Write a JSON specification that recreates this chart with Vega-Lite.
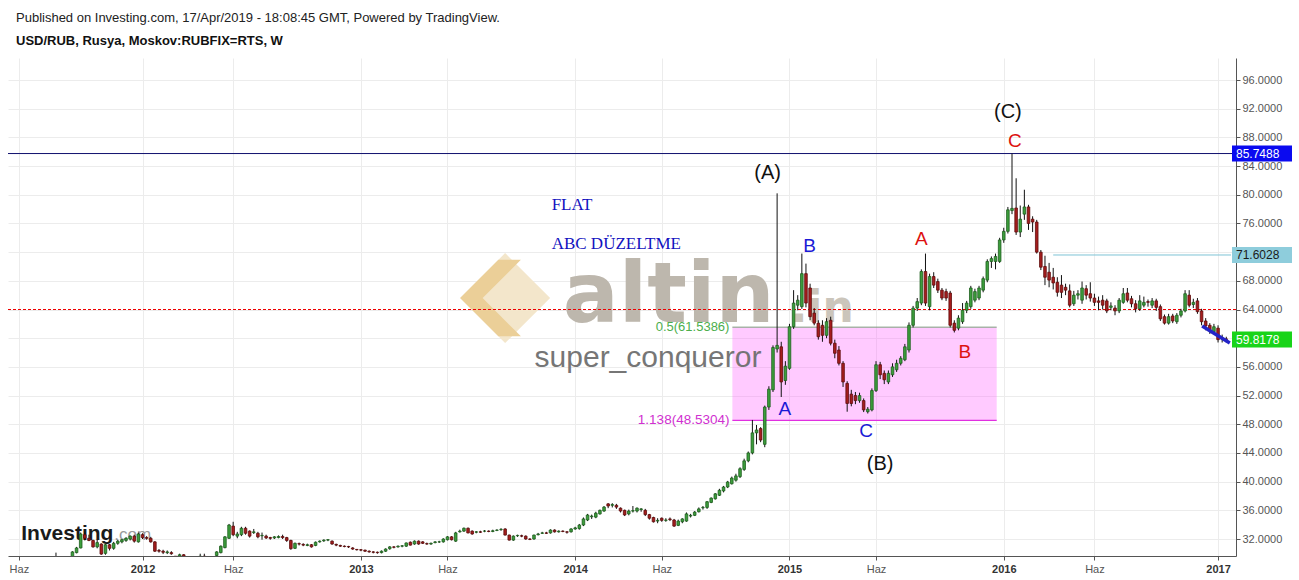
{
"$schema": "https://vega.github.io/schema/vega-lite/v6.json",
"width": 1228, "height": 498,
"autosize": {"type": "none"},
"padding": {"left": 8, "top": 58, "right": 63, "bottom": 24},
"background": "#ffffff",
"config": {"view": {"stroke": null}, "font": "Liberation Sans"},
"title": {"text": "Published on Investing.com, 17/Apr/2019 - 18:08:45 GMT, Powered by TradingView.", "subtitle": "USD/RUB, Rusya, Moskov:RUBFIX=RTS, W", "anchor": "start", "frame": "group", "dx": 8, "offset": 10, "font": "Liberation Sans", "fontSize": 13, "fontWeight": "normal", "color": "#222222", "subtitleFont": "Liberation Sans", "subtitleFontSize": 13, "subtitleFontWeight": "bold", "subtitleColor": "#111111", "subtitlePadding": 10},
"datasets": {
"candles": [
{"d":"2011-08-08","o":28.5,"h":30.1,"l":28.3,"c":29.0},
{"d":"2011-08-15","o":29.0,"h":29.2,"l":28.7,"c":28.9},
{"d":"2011-08-22","o":28.9,"h":29.2,"l":28.7,"c":29.0},
{"d":"2011-08-29","o":29.0,"h":29.4,"l":28.8,"c":29.3},
{"d":"2011-09-05","o":29.5,"h":30.3,"l":29.4,"c":30.2},
{"d":"2011-09-12","o":30.1,"h":30.9,"l":30.0,"c":30.75},
{"d":"2011-09-19","o":30.75,"h":32.9,"l":30.7,"c":32.7},
{"d":"2011-09-26","o":32.6,"h":32.9,"l":31.8,"c":32.1},
{"d":"2011-10-03","o":32.1,"h":32.6,"l":31.7,"c":31.8},
{"d":"2011-10-10","o":31.8,"h":31.9,"l":30.8,"c":30.9},
{"d":"2011-10-17","o":30.9,"h":31.9,"l":30.7,"c":31.5},
{"d":"2011-10-24","o":31.3,"h":31.4,"l":29.8,"c":29.9},
{"d":"2011-10-31","o":30.0,"h":31.3,"l":29.8,"c":31.2},
{"d":"2011-11-07","o":31.2,"h":31.3,"l":30.4,"c":30.7},
{"d":"2011-11-14","o":30.7,"h":31.6,"l":30.5,"c":31.4},
{"d":"2011-11-21","o":31.4,"h":31.9,"l":31.2,"c":31.7},
{"d":"2011-11-28","o":31.6,"h":32.0,"l":31.4,"c":31.9},
{"d":"2011-12-05","o":31.8,"h":32.2,"l":31.6,"c":32.1},
{"d":"2011-12-12","o":32.0,"h":32.5,"l":31.8,"c":32.4},
{"d":"2011-12-19","o":32.4,"h":32.6,"l":31.5,"c":31.7},
{"d":"2011-12-26","o":31.6,"h":32.9,"l":31.5,"c":32.7},
{"d":"2012-01-02","o":32.6,"h":32.8,"l":32.0,"c":32.2},
{"d":"2012-01-09","o":32.2,"h":32.4,"l":31.9,"c":32.1},
{"d":"2012-01-16","o":32.1,"h":32.3,"l":31.5,"c":31.6},
{"d":"2012-01-23","o":31.6,"h":31.7,"l":30.2,"c":30.3},
{"d":"2012-01-30","o":30.4,"h":30.6,"l":30.1,"c":30.3},
{"d":"2012-02-06","o":30.3,"h":30.5,"l":29.9,"c":30.15},
{"d":"2012-02-13","o":30.1,"h":30.4,"l":29.9,"c":30.2},
{"d":"2012-02-20","o":30.1,"h":30.3,"l":29.8,"c":29.95},
{"d":"2012-02-27","o":29.6,"h":29.6,"l":29.2,"c":29.4},
{"d":"2012-03-05","o":29.6,"h":29.95,"l":29.4,"c":29.8},
{"d":"2012-03-12","o":29.8,"h":29.9,"l":29.4,"c":29.6},
{"d":"2012-03-19","o":29.5,"h":29.55,"l":29.1,"c":29.3},
{"d":"2012-03-26","o":29.3,"h":29.5,"l":29.1,"c":29.4},
{"d":"2012-04-02","o":29.4,"h":29.6,"l":29.2,"c":29.5},
{"d":"2012-04-09","o":29.5,"h":29.95,"l":29.3,"c":29.6},
{"d":"2012-04-16","o":29.6,"h":29.95,"l":29.3,"c":29.5},
{"d":"2012-04-23","o":29.5,"h":29.6,"l":29.3,"c":29.4},
{"d":"2012-04-30","o":29.4,"h":29.6,"l":29.2,"c":29.5},
{"d":"2012-05-07","o":29.7,"h":30.3,"l":29.6,"c":30.2},
{"d":"2012-05-14","o":30.1,"h":31.1,"l":30.0,"c":31.0},
{"d":"2012-05-21","o":30.8,"h":32.4,"l":30.7,"c":32.3},
{"d":"2012-05-28","o":32.1,"h":34.1,"l":32.0,"c":33.95},
{"d":"2012-06-04","o":33.8,"h":34.4,"l":32.4,"c":32.6},
{"d":"2012-06-11","o":32.4,"h":33.0,"l":32.1,"c":32.7},
{"d":"2012-06-18","o":32.6,"h":33.7,"l":32.4,"c":33.5},
{"d":"2012-06-25","o":33.5,"h":33.7,"l":32.6,"c":32.8},
{"d":"2012-07-02","o":33.1,"h":33.2,"l":32.2,"c":32.4},
{"d":"2012-07-09","o":32.9,"h":33.4,"l":32.7,"c":33.0},
{"d":"2012-07-16","o":32.8,"h":33.0,"l":32.1,"c":32.3},
{"d":"2012-07-23","o":32.45,"h":32.9,"l":31.9,"c":32.5},
{"d":"2012-07-30","o":32.4,"h":32.6,"l":32.0,"c":32.15},
{"d":"2012-08-06","o":32.2,"h":32.3,"l":31.9,"c":32.1},
{"d":"2012-08-13","o":32.15,"h":32.4,"l":32.0,"c":32.3},
{"d":"2012-08-20","o":32.2,"h":32.5,"l":32.1,"c":32.35},
{"d":"2012-08-27","o":32.35,"h":32.6,"l":32.0,"c":32.2},
{"d":"2012-09-03","o":32.2,"h":32.3,"l":31.6,"c":31.8},
{"d":"2012-09-10","o":31.8,"h":31.9,"l":30.5,"c":30.65},
{"d":"2012-09-17","o":30.7,"h":31.5,"l":30.6,"c":31.4},
{"d":"2012-09-24","o":31.35,"h":31.5,"l":31.1,"c":31.3},
{"d":"2012-10-01","o":31.25,"h":31.4,"l":31.0,"c":31.15},
{"d":"2012-10-08","o":31.1,"h":31.35,"l":31.0,"c":31.2},
{"d":"2012-10-15","o":31.2,"h":31.3,"l":30.8,"c":30.9},
{"d":"2012-10-22","o":31.1,"h":31.65,"l":31.0,"c":31.55},
{"d":"2012-10-29","o":31.6,"h":31.8,"l":31.5,"c":31.7},
{"d":"2012-11-05","o":31.75,"h":31.95,"l":31.6,"c":31.85},
{"d":"2012-11-12","o":31.85,"h":32.0,"l":31.7,"c":31.9},
{"d":"2012-11-19","o":31.7,"h":31.8,"l":31.2,"c":31.3},
{"d":"2012-11-26","o":31.25,"h":31.35,"l":31.0,"c":31.15},
{"d":"2012-12-03","o":31.1,"h":31.2,"l":30.9,"c":31.0},
{"d":"2012-12-10","o":31.0,"h":31.1,"l":30.85,"c":30.95},
{"d":"2012-12-17","o":30.95,"h":31.05,"l":30.75,"c":30.9},
{"d":"2012-12-24","o":30.75,"h":30.85,"l":30.5,"c":30.6},
{"d":"2012-12-31","o":30.55,"h":30.6,"l":30.4,"c":30.5},
{"d":"2013-01-07","o":30.5,"h":30.6,"l":30.3,"c":30.45},
{"d":"2013-01-14","o":30.45,"h":30.5,"l":30.2,"c":30.3},
{"d":"2013-01-21","o":30.3,"h":30.4,"l":30.1,"c":30.2},
{"d":"2013-01-28","o":30.2,"h":30.3,"l":30.0,"c":30.15},
{"d":"2013-02-04","o":30.15,"h":30.25,"l":29.95,"c":30.1},
{"d":"2013-02-11","o":30.1,"h":30.4,"l":30.0,"c":30.3},
{"d":"2013-02-18","o":30.3,"h":30.7,"l":30.2,"c":30.6},
{"d":"2013-02-25","o":30.65,"h":31.0,"l":30.5,"c":30.9},
{"d":"2013-03-04","o":30.9,"h":31.0,"l":30.7,"c":30.85},
{"d":"2013-03-11","o":30.9,"h":31.1,"l":30.8,"c":31.0},
{"d":"2013-03-18","o":31.0,"h":31.15,"l":30.85,"c":31.05},
{"d":"2013-03-25","o":31.0,"h":31.5,"l":30.9,"c":31.45},
{"d":"2013-04-01","o":31.55,"h":31.65,"l":31.1,"c":31.15},
{"d":"2013-04-08","o":31.3,"h":31.8,"l":31.2,"c":31.7},
{"d":"2013-04-15","o":31.7,"h":31.8,"l":31.2,"c":31.3},
{"d":"2013-04-22","o":31.6,"h":31.7,"l":31.3,"c":31.4},
{"d":"2013-04-29","o":31.35,"h":31.5,"l":31.2,"c":31.3},
{"d":"2013-05-06","o":31.3,"h":31.5,"l":31.2,"c":31.4},
{"d":"2013-05-13","o":31.5,"h":31.7,"l":31.4,"c":31.6},
{"d":"2013-05-20","o":31.6,"h":31.75,"l":31.45,"c":31.6},
{"d":"2013-05-27","o":31.6,"h":32.1,"l":31.5,"c":32.0},
{"d":"2013-06-03","o":31.9,"h":32.4,"l":31.8,"c":32.3},
{"d":"2013-06-10","o":32.3,"h":32.4,"l":31.8,"c":31.9},
{"d":"2013-06-17","o":31.7,"h":33.0,"l":31.6,"c":32.85},
{"d":"2013-06-24","o":33.0,"h":33.3,"l":32.9,"c":33.1},
{"d":"2013-07-01","o":33.1,"h":33.6,"l":33.0,"c":33.5},
{"d":"2013-07-08","o":33.5,"h":33.6,"l":32.8,"c":32.85},
{"d":"2013-07-15","o":33.1,"h":33.2,"l":32.6,"c":32.7},
{"d":"2013-07-22","o":32.95,"h":33.1,"l":32.8,"c":33.0},
{"d":"2013-07-29","o":33.0,"h":33.15,"l":32.85,"c":32.95},
{"d":"2013-08-05","o":33.1,"h":33.25,"l":32.95,"c":33.1},
{"d":"2013-08-12","o":33.1,"h":33.2,"l":32.95,"c":33.05},
{"d":"2013-08-19","o":33.05,"h":33.3,"l":32.95,"c":33.15},
{"d":"2013-08-26","o":33.2,"h":33.35,"l":33.1,"c":33.25},
{"d":"2013-09-02","o":33.3,"h":33.5,"l":33.15,"c":33.35},
{"d":"2013-09-09","o":33.4,"h":33.5,"l":32.5,"c":32.55},
{"d":"2013-09-16","o":32.55,"h":32.6,"l":31.8,"c":31.85},
{"d":"2013-09-23","o":31.85,"h":32.5,"l":31.75,"c":32.4},
{"d":"2013-09-30","o":32.45,"h":32.6,"l":32.3,"c":32.5},
{"d":"2013-10-07","o":32.45,"h":32.6,"l":32.25,"c":32.4},
{"d":"2013-10-14","o":32.4,"h":32.5,"l":31.9,"c":32.0},
{"d":"2013-10-21","o":32.0,"h":32.1,"l":31.85,"c":31.95},
{"d":"2013-10-28","o":32.0,"h":32.6,"l":31.9,"c":32.55},
{"d":"2013-11-04","o":32.6,"h":32.85,"l":32.5,"c":32.7},
{"d":"2013-11-11","o":32.8,"h":33.0,"l":32.7,"c":32.85},
{"d":"2013-11-18","o":32.85,"h":33.0,"l":32.7,"c":32.8},
{"d":"2013-11-25","o":32.85,"h":33.35,"l":32.75,"c":33.25},
{"d":"2013-12-02","o":33.25,"h":33.35,"l":32.9,"c":33.0},
{"d":"2013-12-09","o":33.0,"h":33.2,"l":32.9,"c":33.1},
{"d":"2013-12-16","o":33.1,"h":33.2,"l":32.95,"c":33.05},
{"d":"2013-12-23","o":33.0,"h":33.1,"l":32.75,"c":32.95},
{"d":"2013-12-30","o":33.0,"h":33.5,"l":32.9,"c":33.4},
{"d":"2014-01-06","o":33.4,"h":33.7,"l":33.3,"c":33.55},
{"d":"2014-01-13","o":33.45,"h":34.1,"l":33.3,"c":33.95},
{"d":"2014-01-20","o":33.95,"h":35.0,"l":33.8,"c":34.8},
{"d":"2014-01-27","o":34.65,"h":35.5,"l":34.5,"c":35.35},
{"d":"2014-02-03","o":35.1,"h":35.4,"l":34.8,"c":35.2},
{"d":"2014-02-10","o":35.05,"h":35.8,"l":34.9,"c":35.6},
{"d":"2014-02-17","o":35.5,"h":36.1,"l":35.4,"c":36.0},
{"d":"2014-02-24","o":35.9,"h":36.6,"l":35.8,"c":36.45},
{"d":"2014-03-03","o":36.9,"h":37.0,"l":36.3,"c":36.6},
{"d":"2014-03-10","o":36.7,"h":37.0,"l":36.4,"c":36.8},
{"d":"2014-03-17","o":36.7,"h":36.9,"l":36.2,"c":36.45},
{"d":"2014-03-24","o":36.3,"h":36.4,"l":35.7,"c":35.9},
{"d":"2014-03-31","o":36.0,"h":36.1,"l":35.2,"c":35.35},
{"d":"2014-04-07","o":35.5,"h":36.1,"l":35.3,"c":35.9},
{"d":"2014-04-14","o":35.9,"h":36.6,"l":35.7,"c":35.95},
{"d":"2014-04-21","o":35.9,"h":36.4,"l":35.7,"c":36.3},
{"d":"2014-04-28","o":36.1,"h":36.3,"l":35.8,"c":36.2},
{"d":"2014-05-05","o":36.0,"h":36.2,"l":35.2,"c":35.4},
{"d":"2014-05-12","o":35.4,"h":35.5,"l":34.7,"c":34.9},
{"d":"2014-05-19","o":35.0,"h":35.1,"l":34.3,"c":34.4},
{"d":"2014-05-26","o":34.5,"h":34.9,"l":34.2,"c":34.6},
{"d":"2014-06-02","o":34.9,"h":35.0,"l":34.4,"c":34.6},
{"d":"2014-06-09","o":34.6,"h":34.9,"l":34.4,"c":34.65},
{"d":"2014-06-16","o":34.8,"h":35.0,"l":34.5,"c":34.7},
{"d":"2014-06-23","o":34.65,"h":34.8,"l":33.7,"c":33.8},
{"d":"2014-06-30","o":33.9,"h":34.7,"l":33.8,"c":34.5},
{"d":"2014-07-07","o":34.4,"h":34.9,"l":34.2,"c":34.8},
{"d":"2014-07-14","o":34.5,"h":35.7,"l":34.4,"c":35.5},
{"d":"2014-07-21","o":35.2,"h":35.5,"l":35.0,"c":35.3},
{"d":"2014-07-28","o":35.3,"h":35.9,"l":35.2,"c":35.75},
{"d":"2014-08-04","o":35.8,"h":36.4,"l":35.7,"c":36.2},
{"d":"2014-08-11","o":36.35,"h":36.6,"l":36.1,"c":36.4},
{"d":"2014-08-18","o":36.4,"h":37.3,"l":36.2,"c":37.2},
{"d":"2014-08-25","o":37.1,"h":37.8,"l":37.0,"c":37.7},
{"d":"2014-09-01","o":37.6,"h":38.4,"l":37.5,"c":38.3},
{"d":"2014-09-08","o":38.1,"h":39.0,"l":38.0,"c":38.8},
{"d":"2014-09-15","o":38.7,"h":39.4,"l":38.5,"c":39.25},
{"d":"2014-09-22","o":39.25,"h":40.1,"l":39.1,"c":39.95},
{"d":"2014-09-29","o":39.7,"h":40.7,"l":39.6,"c":40.5},
{"d":"2014-10-06","o":40.2,"h":41.1,"l":40.0,"c":40.8},
{"d":"2014-10-13","o":40.7,"h":42.0,"l":40.5,"c":41.8},
{"d":"2014-10-20","o":41.7,"h":43.2,"l":41.5,"c":42.9},
{"d":"2014-10-27","o":42.9,"h":44.2,"l":42.7,"c":44.0},
{"d":"2014-11-03","o":44.0,"h":48.6,"l":43.8,"c":46.8},
{"d":"2014-11-10","o":46.8,"h":47.9,"l":45.2,"c":47.2},
{"d":"2014-11-17","o":47.4,"h":47.6,"l":45.5,"c":45.8},
{"d":"2014-11-24","o":45.2,"h":50.6,"l":44.8,"c":50.4},
{"d":"2014-12-01","o":50.4,"h":53.3,"l":50.0,"c":52.9},
{"d":"2014-12-08","o":52.8,"h":59.0,"l":52.5,"c":58.7},
{"d":"2014-12-15","o":58.5,"h":80.2,"l":58.0,"c":59.0},
{"d":"2014-12-22","o":58.8,"h":59.5,"l":51.8,"c":53.9},
{"d":"2014-12-29","o":54.1,"h":56.8,"l":53.5,"c":56.1},
{"d":"2015-01-05","o":55.8,"h":62.0,"l":55.6,"c":61.6},
{"d":"2015-01-12","o":61.6,"h":66.7,"l":61.3,"c":64.9},
{"d":"2015-01-19","o":64.6,"h":66.0,"l":63.9,"c":65.3},
{"d":"2015-01-26","o":64.4,"h":71.8,"l":64.1,"c":69.0},
{"d":"2015-02-02","o":69.0,"h":70.4,"l":64.3,"c":64.9},
{"d":"2015-02-09","o":67.0,"h":67.6,"l":62.5,"c":63.0},
{"d":"2015-02-16","o":63.5,"h":64.2,"l":61.8,"c":62.1},
{"d":"2015-02-23","o":62.1,"h":62.5,"l":59.8,"c":60.2},
{"d":"2015-03-02","o":61.8,"h":62.5,"l":59.5,"c":60.4},
{"d":"2015-03-09","o":60.4,"h":62.8,"l":60.0,"c":62.3},
{"d":"2015-03-16","o":62.5,"h":63.0,"l":59.0,"c":59.3},
{"d":"2015-03-23","o":59.3,"h":59.8,"l":57.2,"c":57.9},
{"d":"2015-03-30","o":58.35,"h":58.9,"l":56.2,"c":56.5},
{"d":"2015-04-06","o":56.5,"h":56.8,"l":53.2,"c":53.9},
{"d":"2015-04-13","o":53.7,"h":54.0,"l":49.75,"c":50.9},
{"d":"2015-04-20","o":52.2,"h":52.8,"l":50.5,"c":50.9},
{"d":"2015-04-27","o":52.0,"h":52.5,"l":50.8,"c":51.3},
{"d":"2015-05-04","o":51.3,"h":52.4,"l":51.0,"c":52.0},
{"d":"2015-05-11","o":51.3,"h":51.6,"l":49.7,"c":50.0},
{"d":"2015-05-18","o":49.75,"h":50.4,"l":49.5,"c":50.1},
{"d":"2015-05-25","o":50.0,"h":53.0,"l":49.8,"c":52.7},
{"d":"2015-06-01","o":52.7,"h":56.8,"l":52.5,"c":56.3},
{"d":"2015-06-08","o":56.3,"h":56.7,"l":54.3,"c":54.9},
{"d":"2015-06-15","o":55.1,"h":55.5,"l":53.6,"c":54.2},
{"d":"2015-06-22","o":53.9,"h":55.5,"l":53.6,"c":55.1},
{"d":"2015-06-29","o":54.9,"h":56.5,"l":54.6,"c":56.0},
{"d":"2015-07-06","o":55.6,"h":57.0,"l":55.3,"c":56.5},
{"d":"2015-07-13","o":56.5,"h":57.5,"l":56.2,"c":57.2},
{"d":"2015-07-20","o":57.0,"h":59.2,"l":56.8,"c":58.8},
{"d":"2015-07-27","o":58.35,"h":62.2,"l":58.0,"c":61.8},
{"d":"2015-08-03","o":61.8,"h":64.5,"l":61.5,"c":64.2},
{"d":"2015-08-10","o":64.2,"h":65.6,"l":63.8,"c":65.1},
{"d":"2015-08-17","o":64.9,"h":69.6,"l":64.6,"c":69.3},
{"d":"2015-08-24","o":69.3,"h":71.8,"l":64.5,"c":64.9},
{"d":"2015-08-31","o":64.4,"h":69.0,"l":63.9,"c":68.6},
{"d":"2015-09-07","o":68.6,"h":69.2,"l":67.0,"c":67.4},
{"d":"2015-09-14","o":67.9,"h":68.3,"l":66.3,"c":66.7},
{"d":"2015-09-21","o":66.7,"h":67.0,"l":65.3,"c":65.6},
{"d":"2015-09-28","o":66.5,"h":66.9,"l":65.2,"c":65.6},
{"d":"2015-10-05","o":66.3,"h":66.6,"l":61.5,"c":61.8},
{"d":"2015-10-12","o":62.1,"h":62.5,"l":60.8,"c":61.1},
{"d":"2015-10-19","o":61.4,"h":63.2,"l":61.1,"c":62.8},
{"d":"2015-10-26","o":62.3,"h":64.9,"l":62.0,"c":63.9},
{"d":"2015-11-02","o":63.9,"h":65.2,"l":63.5,"c":64.9},
{"d":"2015-11-09","o":64.4,"h":67.3,"l":64.1,"c":67.0},
{"d":"2015-11-16","o":65.3,"h":66.9,"l":65.0,"c":66.5},
{"d":"2015-11-23","o":65.6,"h":67.3,"l":65.3,"c":67.0},
{"d":"2015-11-30","o":66.7,"h":68.6,"l":66.4,"c":68.3},
{"d":"2015-12-07","o":68.1,"h":71.0,"l":67.8,"c":70.7},
{"d":"2015-12-14","o":70.7,"h":71.4,"l":69.8,"c":71.1},
{"d":"2015-12-21","o":70.7,"h":71.8,"l":69.6,"c":71.4},
{"d":"2015-12-28","o":70.7,"h":74.0,"l":70.5,"c":73.7},
{"d":"2016-01-04","o":73.7,"h":75.4,"l":73.3,"c":74.9},
{"d":"2016-01-11","o":74.9,"h":78.3,"l":74.6,"c":77.9},
{"d":"2016-01-18","o":77.8,"h":85.75,"l":77.3,"c":78.1},
{"d":"2016-01-25","o":78.15,"h":82.3,"l":74.4,"c":74.8},
{"d":"2016-02-01","o":74.8,"h":78.5,"l":74.1,"c":76.6},
{"d":"2016-02-08","o":77.3,"h":80.7,"l":76.5,"c":78.3},
{"d":"2016-02-15","o":78.3,"h":78.6,"l":75.1,"c":76.0},
{"d":"2016-02-22","o":76.6,"h":77.0,"l":74.8,"c":76.2},
{"d":"2016-02-29","o":76.2,"h":76.5,"l":71.8,"c":72.0},
{"d":"2016-03-07","o":72.0,"h":72.3,"l":69.5,"c":69.9},
{"d":"2016-03-14","o":70.0,"h":71.5,"l":67.4,"c":68.5},
{"d":"2016-03-21","o":69.2,"h":70.5,"l":67.1,"c":68.1},
{"d":"2016-03-28","o":68.5,"h":69.8,"l":66.8,"c":67.7},
{"d":"2016-04-04","o":67.8,"h":68.5,"l":65.8,"c":66.4},
{"d":"2016-04-11","o":67.4,"h":68.8,"l":65.6,"c":66.4},
{"d":"2016-04-18","o":67.1,"h":67.6,"l":66.0,"c":66.7},
{"d":"2016-04-25","o":66.6,"h":67.5,"l":64.3,"c":64.6},
{"d":"2016-05-02","o":64.8,"h":66.6,"l":64.5,"c":66.0},
{"d":"2016-05-09","o":66.0,"h":66.7,"l":65.4,"c":66.2},
{"d":"2016-05-16","o":65.3,"h":67.9,"l":64.8,"c":67.0},
{"d":"2016-05-23","o":66.9,"h":67.4,"l":65.4,"c":66.0},
{"d":"2016-05-30","o":66.2,"h":67.8,"l":65.1,"c":65.6},
{"d":"2016-06-06","o":65.6,"h":66.2,"l":64.5,"c":65.0},
{"d":"2016-06-13","o":65.2,"h":65.8,"l":63.9,"c":65.0},
{"d":"2016-06-20","o":65.3,"h":66.0,"l":64.0,"c":64.6},
{"d":"2016-06-27","o":65.2,"h":65.5,"l":63.5,"c":63.8},
{"d":"2016-07-04","o":64.3,"h":65.0,"l":63.9,"c":64.5},
{"d":"2016-07-11","o":64.2,"h":64.6,"l":63.2,"c":63.8},
{"d":"2016-07-18","o":63.8,"h":65.6,"l":63.5,"c":65.3},
{"d":"2016-07-25","o":65.0,"h":67.0,"l":64.8,"c":66.2},
{"d":"2016-08-01","o":66.3,"h":67.0,"l":65.0,"c":65.3},
{"d":"2016-08-08","o":65.5,"h":65.9,"l":64.3,"c":64.8},
{"d":"2016-08-15","o":64.8,"h":65.3,"l":63.6,"c":64.1},
{"d":"2016-08-22","o":64.1,"h":66.0,"l":63.8,"c":65.2},
{"d":"2016-08-29","o":64.6,"h":65.8,"l":64.3,"c":65.0},
{"d":"2016-09-05","o":65.1,"h":65.4,"l":64.4,"c":65.0},
{"d":"2016-09-12","o":64.6,"h":65.6,"l":64.2,"c":65.2},
{"d":"2016-09-19","o":65.2,"h":65.5,"l":63.8,"c":64.3},
{"d":"2016-09-26","o":64.4,"h":64.7,"l":62.4,"c":62.7},
{"d":"2016-10-03","o":63.0,"h":63.3,"l":61.9,"c":62.1},
{"d":"2016-10-10","o":62.1,"h":63.4,"l":61.9,"c":63.0},
{"d":"2016-10-17","o":63.1,"h":63.4,"l":62.1,"c":62.4},
{"d":"2016-10-24","o":62.3,"h":63.5,"l":62.0,"c":63.2},
{"d":"2016-10-31","o":63.2,"h":64.1,"l":62.9,"c":63.8},
{"d":"2016-11-07","o":63.8,"h":66.7,"l":63.6,"c":66.2},
{"d":"2016-11-14","o":66.0,"h":66.7,"l":64.3,"c":64.6},
{"d":"2016-11-21","o":64.7,"h":65.5,"l":64.2,"c":65.0},
{"d":"2016-11-28","o":65.2,"h":65.6,"l":63.4,"c":63.7},
{"d":"2016-12-05","o":63.8,"h":64.1,"l":61.8,"c":62.3},
{"d":"2016-12-12","o":62.4,"h":62.8,"l":61.1,"c":61.7},
{"d":"2016-12-19","o":61.8,"h":62.1,"l":60.6,"c":61.1},
{"d":"2016-12-26","o":60.9,"h":62.0,"l":60.6,"c":61.6},
{"d":"2017-01-02","o":61.4,"h":61.8,"l":59.4,"c":59.8},
{"d":"2017-01-09","o":60.0,"h":60.5,"l":59.4,"c":59.9},
{"d":"2017-01-16","o":59.9,"h":60.2,"l":59.4,"c":59.82}
]
},
"layer": [
{"data": {"name": "candles"},
 "mark": {"type": "rule", "color": "#111111", "strokeWidth": 1, "opacity": 0, "clip": true},
 "encoding": {
  "x": {"field": "d", "type": "temporal",
   "scale": {"type": "utc", "domain": [{"year": 2011, "month": 5, "date": 27, "utc": true}, {"year": 2017, "month": 1, "date": 24, "utc": true}]},
   "axis": {"orient": "bottom", "title": null, "tickCount": 30, "values": [
     {"year": 2011, "month": 6, "date": 6, "utc": true}, {"year": 2012, "month": 1, "date": 2, "utc": true},
     {"year": 2012, "month": 6, "date": 4, "utc": true}, {"year": 2013, "month": 1, "date": 7, "utc": true},
     {"year": 2013, "month": 6, "date": 3, "utc": true}, {"year": 2014, "month": 1, "date": 6, "utc": true},
     {"year": 2014, "month": 6, "date": 2, "utc": true}, {"year": 2015, "month": 1, "date": 5, "utc": true},
     {"year": 2015, "month": 6, "date": 1, "utc": true}, {"year": 2016, "month": 1, "date": 4, "utc": true},
     {"year": 2016, "month": 6, "date": 6, "utc": true}, {"year": 2017, "month": 1, "date": 2, "utc": true}],
    "labelExpr": "utcmonth(datum.value) == 0 ? '' + utcyear(datum.value) : 'Haz'",
    "labelFontWeight": {"condition": {"test": "utcmonth(datum.value) == 0", "value": "bold"}, "value": "normal"},
    "labelColor": {"condition": {"test": "utcmonth(datum.value) == 0", "value": "#333333"}, "value": "#555555"},
    "labelFont": "Liberation Sans", "labelFontSize": 11, "labelPadding": 3, "labelFlush": false, "labelOverlap": false,
    "grid": true, "gridColor": "#ececec", "domainColor": "#555555", "tickColor": "#555555", "tickSize": 4}},
  "y": {"field": "l", "type": "quantitative",
   "scale": {"domain": [29.63, 99.07], "nice": false, "zero": false},
   "axis": {"orient": "right", "title": null, "tickCount": 30, "values": [32, 36, 40, 44, 48, 52, 56, 60, 64, 68, 72, 76, 80, 84, 88, 92, 96],
    "format": ".4f", "labelExpr": "datum.value == 60 || datum.value == 72 ? '' : datum.label",
    "labelFont": "Liberation Sans", "labelFontSize": 11, "labelColor": "#555555", "labelPadding": 2, "labelFlush": false, "labelOverlap": false,
    "grid": true, "gridColor": "#ececec", "domainColor": "#555555", "tickColor": "#555555", "tickSize": 4}},
  "y2": {"field": "h"}}},
{"data": {"values": [{"d": "2013-09-09", "v": 65.6}]},
 "mark": {"type": "point", "shape": "M 0 -1 L 1 0 L 0 1 L -1 0 Z", "filled": true, "size": 8100, "color": "#f3e6cb", "opacity": 1, "strokeWidth": 0},
 "encoding": {"x": {"field": "d", "type": "temporal"}, "y": {"field": "v", "type": "quantitative"}}},
{"data": {"values": [{"d": "2013-09-09", "v": 65.6}]},
 "mark": {"type": "point", "shape": "M -1 0 L -0.15 -0.85 L 0.35 -0.85 L -0.5 0 L 0.35 0.85 L -0.15 0.85 Z", "filled": true, "size": 8100, "color": "#ebcf98", "opacity": 1, "strokeWidth": 0},
 "encoding": {"x": {"field": "d", "type": "temporal"}, "y": {"field": "v", "type": "quantitative"}}},
{"data": {"values": [{"d": "2013-12-16", "v": 62.26, "t": "altin"}]},
 "mark": {"type": "text", "align": "left", "baseline": "alphabetic", "font": "DejaVu Sans", "fontWeight": "bold", "fontSize": 83, "color": "#bdb7ad"},
 "encoding": {"x": {"field": "d", "type": "temporal"}, "y": {"field": "v", "type": "quantitative"}, "text": {"field": "t"}}},
{"data": {"values": [{"d": "2015-01-07", "v": 62.26, "t": ".in"}]},
 "mark": {"type": "text", "align": "left", "baseline": "alphabetic", "font": "DejaVu Sans", "fontWeight": "bold", "fontSize": 44, "color": "#cbc5bb"},
 "encoding": {"x": {"field": "d", "type": "temporal"}, "y": {"field": "v", "type": "quantitative"}, "text": {"field": "t"}}},
{"data": {"values": [{"d": "2014-09-30", "d2": "2015-12-23", "v": 48.5304, "v2": 61.5386}]},
 "mark": {"type": "rect", "color": "#ff66ff", "opacity": 0.35, "clip": true},
 "encoding": {"x": {"field": "d", "type": "temporal"}, "x2": {"field": "d2"}, "y": {"field": "v", "type": "quantitative"}, "y2": {"field": "v2"}}},
{"data": {"values": [{"d": "2013-10-29", "v": 57.24, "t": "super_conqueror"}]},
 "mark": {"type": "text", "align": "left", "baseline": "middle", "font": "Liberation Sans", "fontSize": 30, "color": "#6f6f6f", "opacity": 0.95},
 "encoding": {"x": {"field": "d", "type": "temporal"}, "y": {"field": "v", "type": "quantitative"}, "text": {"field": "t"}}},
{"data": {"values": [{"d": "2011-06-10", "v": 31.86, "t": "Investing"}]},
 "mark": {"type": "text", "align": "left", "baseline": "alphabetic", "font": "Liberation Sans", "fontWeight": "bold", "fontSize": 21, "color": "#1a1a1a"},
 "encoding": {"x": {"field": "d", "type": "temporal"}, "y": {"field": "v", "type": "quantitative"}, "text": {"field": "t"}}},
{"data": {"values": [{"d": "2011-11-15", "v": 31.86, "t": ".com"}]},
 "mark": {"type": "text", "align": "left", "baseline": "alphabetic", "font": "Liberation Sans", "fontSize": 17, "color": "#9a9a9a"},
 "encoding": {"x": {"field": "d", "type": "temporal"}, "y": {"field": "v", "type": "quantitative"}, "text": {"field": "t"}}},
{"data": {"values": [{"d": "2014-09-30", "d2": "2015-12-23", "v": 61.5386}]},
 "mark": {"type": "rule", "color": "#7d9a7d", "strokeWidth": 1, "clip": true},
 "encoding": {"x": {"field": "d", "type": "temporal"}, "x2": {"field": "d2"}, "y": {"field": "v", "type": "quantitative"}}},
{"data": {"values": [{"d": "2014-09-30", "d2": "2015-12-23", "v": 48.5304}]},
 "mark": {"type": "rule", "color": "#e030e0", "strokeWidth": 1.2, "clip": true},
 "encoding": {"x": {"field": "d", "type": "temporal"}, "x2": {"field": "d2"}, "y": {"field": "v", "type": "quantitative"}}},
{"data": {"values": [{"v": 64.0}]},
 "mark": {"type": "rule", "color": "#ee0000", "stroke": "#ee0000", "opacity": 1, "strokeWidth": 1.2, "strokeDash": [3, 2], "clip": true},
 "encoding": {"y": {"field": "v", "type": "quantitative"}}},
{"data": {"values": [{"v": 85.7488}]},
 "mark": {"type": "rule", "color": "#10106e", "strokeWidth": 1, "clip": true},
 "encoding": {"y": {"field": "v", "type": "quantitative"}}},
{"data": {"values": [{"d": "2016-03-28", "d2": "2017-01-24", "v": 71.6028}]},
 "mark": {"type": "rule", "color": "#7ec3d5", "strokeWidth": 1, "clip": true},
 "encoding": {"x": {"field": "d", "type": "temporal"}, "x2": {"field": "d2"}, "y": {"field": "v", "type": "quantitative"}}},
{"data": {"name": "candles"},
 "mark": {"type": "rule", "color": "#111111", "strokeWidth": 1, "clip": true},
 "encoding": {"x": {"field": "d", "type": "temporal"}, "y": {"field": "l", "type": "quantitative"}, "y2": {"field": "h"}}},
{"data": {"name": "candles"},
 "mark": {"type": "bar", "width": 2.6, "strokeWidth": 0.8, "clip": true},
 "encoding": {
  "x": {"field": "d", "type": "temporal"},
  "y": {"field": "o", "type": "quantitative"},
  "y2": {"field": "c"},
  "fill": {"condition": {"test": "datum.c >= datum.o", "value": "#3c9e3c"}, "value": "#a51d1d"},
  "stroke": {"condition": {"test": "datum.c >= datum.o", "value": "#1e5e1e"}, "value": "#5e0c0c"}}},
{"data": {"values": [{"d": "2016-12-06", "d2": "2017-01-22", "v": 61.7, "v2": 59.33}]},
 "mark": {"type": "rule", "color": "#2424c8", "strokeWidth": 3.5, "clip": true},
 "encoding": {"x": {"field": "d", "type": "temporal"}, "x2": {"field": "d2"}, "y": {"field": "v", "type": "quantitative"}, "y2": {"field": "v2"}}},
{"data": {"values": [{"d": "2014-09-25", "v": 61.5386, "t": "0.5(61.5386)"}]},
 "mark": {"type": "text", "align": "right", "baseline": "middle", "font": "Liberation Sans", "fontSize": 13, "color": "#4cae4c"},
 "encoding": {"x": {"field": "d", "type": "temporal"}, "y": {"field": "v", "type": "quantitative"}, "text": {"field": "t"}}},
{"data": {"values": [{"d": "2014-09-25", "v": 48.5304, "t": "1.138(48.5304)"}]},
 "mark": {"type": "text", "align": "right", "baseline": "middle", "font": "Liberation Sans", "fontSize": 13.5, "color": "#d030d0"},
 "encoding": {"x": {"field": "d", "type": "temporal"}, "y": {"field": "v", "type": "quantitative"}, "text": {"field": "t"}}},
{"data": {"values": [{"d": "2014-11-29", "v": 83.03, "t": "(A)"}, {"d": "2015-06-08", "v": 42.46, "t": "(B)"}, {"d": "2016-01-11", "v": 91.54, "t": "(C)"}]},
 "mark": {"type": "text", "align": "center", "baseline": "middle", "font": "Liberation Sans", "fontSize": 20, "color": "#111111"},
 "encoding": {"x": {"field": "d", "type": "temporal"}, "y": {"field": "v", "type": "quantitative"}, "text": {"field": "t"}}},
{"data": {"values": [{"d": "2014-12-28", "v": 50.13, "t": "A"}, {"d": "2015-02-08", "v": 72.85, "t": "B"}, {"d": "2015-05-15", "v": 47.06, "t": "C"}]},
 "mark": {"type": "text", "align": "center", "baseline": "middle", "font": "Liberation Sans", "fontSize": 19, "color": "#1a1ad6"},
 "encoding": {"x": {"field": "d", "type": "temporal"}, "y": {"field": "v", "type": "quantitative"}, "text": {"field": "t"}}},
{"data": {"values": [{"d": "2015-08-17", "v": 73.83, "t": "A"}, {"d": "2015-10-30", "v": 58.07, "t": "B"}, {"d": "2016-01-23", "v": 87.49, "t": "C"}]},
 "mark": {"type": "text", "align": "center", "baseline": "middle", "font": "Liberation Sans", "fontSize": 19, "color": "#dd1111"},
 "encoding": {"x": {"field": "d", "type": "temporal"}, "y": {"field": "v", "type": "quantitative"}, "text": {"field": "t"}}},
{"data": {"values": [{"d": "2013-11-27", "v": 78.57, "t": "FLAT"}, {"d": "2013-11-27", "v": 73.13, "t": "ABC DÜZELTME"}]},
 "mark": {"type": "text", "align": "left", "baseline": "middle", "font": "Liberation Serif", "fontSize": 17, "color": "#1212c0"},
 "encoding": {"x": {"field": "d", "type": "temporal"}, "y": {"field": "v", "type": "quantitative"}, "text": {"field": "t"}}},
{"data": {"values": [{"d": "2017-01-24", "v": 85.7488}]},
 "mark": {"type": "rect", "color": "#0a0af0", "xOffset": 1, "x2Offset": 61, "yOffset": -8, "y2Offset": 8},
 "encoding": {"x": {"field": "d", "type": "temporal"}, "x2": {"field": "d"}, "y": {"field": "v", "type": "quantitative"}, "y2": {"field": "v"}}},
{"data": {"values": [{"d": "2017-01-24", "v": 71.6028}]},
 "mark": {"type": "rect", "color": "#8ecddc", "xOffset": 1, "x2Offset": 61, "yOffset": -8, "y2Offset": 8},
 "encoding": {"x": {"field": "d", "type": "temporal"}, "x2": {"field": "d"}, "y": {"field": "v", "type": "quantitative"}, "y2": {"field": "v"}}},
{"data": {"values": [{"d": "2017-01-24", "v": 59.8178}]},
 "mark": {"type": "rect", "color": "#19d419", "xOffset": 1, "x2Offset": 61, "yOffset": -8, "y2Offset": 8},
 "encoding": {"x": {"field": "d", "type": "temporal"}, "x2": {"field": "d"}, "y": {"field": "v", "type": "quantitative"}, "y2": {"field": "v"}}},
{"data": {"values": [{"d": "2017-01-24", "v": 85.7488, "t": "85.7488"}, {"d": "2017-01-24", "v": 59.8178, "t": "59.8178"}]},
 "mark": {"type": "text", "align": "left", "baseline": "middle", "dx": 5, "font": "Liberation Sans", "fontSize": 12, "color": "#ffffff"},
 "encoding": {"x": {"field": "d", "type": "temporal"}, "y": {"field": "v", "type": "quantitative"}, "text": {"field": "t"}}},
{"data": {"values": [{"d": "2017-01-24", "v": 71.6028, "t": "71.6028"}]},
 "mark": {"type": "text", "align": "left", "baseline": "middle", "dx": 5, "font": "Liberation Sans", "fontSize": 12, "color": "#1a1a1a"},
 "encoding": {"x": {"field": "d", "type": "temporal"}, "y": {"field": "v", "type": "quantitative"}, "text": {"field": "t"}}}
]
}
